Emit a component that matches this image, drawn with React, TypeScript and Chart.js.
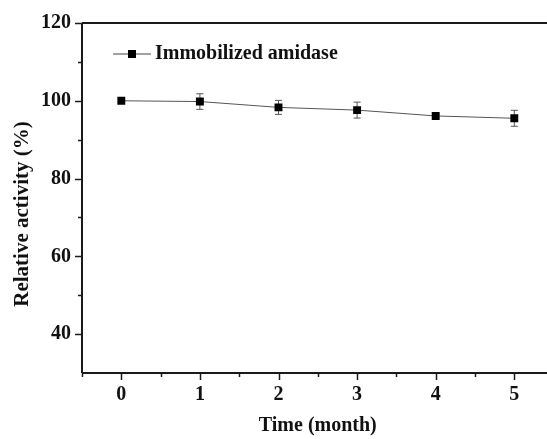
import React, { useEffect, useRef } from "react";
import { Chart, registerables } from "chart.js";

Chart.register(...registerables);

const months = [0, 1, 2, 3, 4, 5];
const activity = [100, 99.8, 98.3, 97.6, 96.1, 95.5];
const errors = [0, 2.0, 1.8, 2.05, 0.6, 2.05];
const xTickValues = [0, 1, 2, 3, 4, 5];
const xMinorTicks = [-0.5, 0.5, 1.5, 2.5, 3.5, 4.5];
const xRange = [-0.5, 5.5];
const yTickValues = [40, 60, 80, 100, 120];
const yMinorTicks = [50, 70, 90, 110];
const yRange = [30, 120];
const seriesName = "Immobilized amidase";
const xTitle = "Time (month)";
const yTitle = "Relative activity (%)";

const FONT = "'Liberation Serif', 'Times New Roman', serif";
const AXIS = "#1a1a1a";

export default function App() {
  const ref = useRef<HTMLCanvasElement | null>(null);

  useEffect(() => {
    if (!ref.current) return;

    const framePlugin = {
      id: "frame",
      beforeDatasetsDraw(chart: any) {
        const { ctx, scales } = chart;
        const x = scales.x;
        const y = scales.y;
        ctx.save();
        ctx.strokeStyle = "#555";
        ctx.lineWidth = 1;
        months.forEach((m, i) => {
          const e = errors[i];
          if (!e) return;
          const px = x.getPixelForValue(m);
          const t = y.getPixelForValue(activity[i] + e);
          const b = y.getPixelForValue(activity[i] - e);
          ctx.beginPath();
          ctx.moveTo(px, t);
          ctx.lineTo(px, b);
          ctx.moveTo(px - 3.5, t);
          ctx.lineTo(px + 3.5, t);
          ctx.moveTo(px - 3.5, b);
          ctx.lineTo(px + 3.5, b);
          ctx.stroke();
        });
        ctx.restore();
      },
      afterDraw(chart: any) {
        const { ctx, chartArea, scales } = chart;
        const x = scales.x;
        const y = scales.y;
        ctx.save();
        ctx.strokeStyle = AXIS;
        ctx.lineWidth = 2;
        ctx.beginPath();
        ctx.moveTo(chartArea.left, chartArea.top);
        ctx.lineTo(chartArea.right, chartArea.top);
        ctx.stroke();
        ctx.beginPath();
        ctx.moveTo(chartArea.left, chartArea.top);
        ctx.lineTo(chartArea.left, chartArea.bottom);
        ctx.stroke();
        ctx.beginPath();
        ctx.moveTo(chartArea.left, chartArea.bottom);
        ctx.lineTo(chartArea.right, chartArea.bottom);
        ctx.stroke();
        ctx.lineWidth = 1.5;
        const drawY = (v: number, len: number) => {
          const py = Math.round(y.getPixelForValue(v)) + 0.5;
          ctx.beginPath();
          ctx.moveTo(chartArea.left, py);
          ctx.lineTo(chartArea.left - len, py);
          ctx.stroke();
        };
        yTickValues.forEach((v) => drawY(v, 7));
        yMinorTicks.forEach((v) => drawY(v, 4));
        const drawX = (v: number, len: number) => {
          const px = Math.round(x.getPixelForValue(v)) + 0.5;
          ctx.beginPath();
          ctx.moveTo(px, chartArea.bottom);
          ctx.lineTo(px, chartArea.bottom + len);
          ctx.stroke();
        };
        xTickValues.forEach((v) => drawX(v, 7));
        xMinorTicks.forEach((v) => drawX(v, 4));

        // y title
        ctx.fillStyle = "#111";
        ctx.font = `bold 21px ${FONT}`;
        ctx.textAlign = "center";
        ctx.textBaseline = "middle";
        ctx.save();
        ctx.translate(23, 214);
        ctx.rotate(-Math.PI / 2);
        ctx.fillText(yTitle, 0, 0);
        ctx.restore();

        // legend
        const ly = 54;
        ctx.strokeStyle = "#444";
        ctx.lineWidth = 1;
        ctx.beginPath();
        ctx.moveTo(113, ly);
        ctx.lineTo(151, ly);
        ctx.stroke();
        ctx.fillStyle = "#000";
        ctx.fillRect(128, ly - 4, 8, 8);
        ctx.font = `bold 20px ${FONT}`;
        ctx.textBaseline = "middle";
        ctx.textAlign = "left";
        ctx.fillStyle = "#111";
        ctx.fillText(seriesName, 155, ly);
        ctx.restore();
      },
    };

    const chart = new Chart(ref.current, {
      type: "line",
      data: {
        datasets: [
          {
            label: seriesName,
            data: months.map((m, i) => ({ x: m, y: activity[i] })),
            borderColor: "#555",
            borderWidth: 1,
            pointStyle: "rect",
            pointRadius: 5.6,
            pointBackgroundColor: "#000",
            pointBorderColor: "#000",
            pointBorderWidth: 0,
            tension: 0,
          },
        ],
      },
      options: {
        animation: false,
        responsive: true,
        maintainAspectRatio: false,
        layout: { padding: { top: 23, right: 6.4, left: 0, bottom: 0 } },
        plugins: { legend: { display: false }, tooltip: { enabled: false } },
        scales: {
          x: {
            type: "linear",
            min: xRange[0],
            max: xRange[1],
            afterBuildTicks: (s: any) => {
              s.ticks = xTickValues.map((v) => ({ value: v }));
            },
            afterFit: (s: any) => {
              s.height = 66;
            },
            grid: { display: false },
            border: { display: false },
            ticks: {
              padding: 2,
              color: "#111",
              font: { family: FONT, size: 20, weight: "bold" },
              maxRotation: 0,
              callback: (v: any) => String(v),
            },
            title: {
              display: true,
              text: xTitle,
              color: "#111",
              font: { family: FONT, size: 20, weight: "bold" },
              padding: { top: 0, bottom: 1 },
            },
          },
          y: {
            min: yRange[0],
            max: yRange[1],
            afterBuildTicks: (s: any) => {
              s.ticks = yTickValues.map((v) => ({ value: v }));
            },
            afterFit: (s: any) => {
              s.width = 82;
            },
            grid: { display: false },
            border: { display: false },
            ticks: {
              padding: 3,
              color: "#111",
              font: { family: FONT, size: 20, weight: "bold" },
              callback: (v: any) => String(v),
            },
            title: { display: false, text: yTitle },
          },
        },
      },
      plugins: [framePlugin],
    });
    return () => chart.destroy();
  }, []);

  return (
    <div
      style={{
        position: "fixed",
        left: 0,
        top: 0,
        width: 547,
        height: 439,
        overflow: "hidden",
        background: "#fff",
      }}
    >
      <div style={{ position: "relative", width: 560, height: 439 }}>
        <canvas ref={ref} />
      </div>
    </div>
  );
}
